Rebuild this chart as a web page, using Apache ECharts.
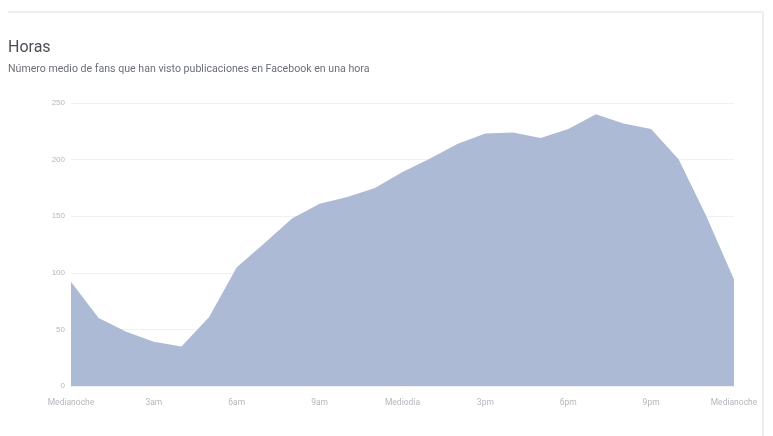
<!DOCTYPE html>
<html>
<head>
<meta charset="utf-8">
<script src="https://cdn.jsdelivr.net/npm/echarts@6/dist/echarts.min.js"></script>
<style>
html,body{margin:0;padding:0;background:#fff;}
#frame{position:absolute;left:8px;top:11px;width:754px;height:430px;border-top:2px solid #eceef1;border-right:2px solid #eceef1;}
#chart{position:absolute;left:0;top:0;width:773px;height:436px;}
</style>
</head>
<body>
<div id="frame"></div>
<div id="chart"></div>
<script>
var titleText = 'Horas';
var subtitleText = 'Número medio de fans que han visto publicaciones en Facebook en una hora';
var hours = ['0','1','2','3','4','5','6','7','8','9','10','11','12','13','14','15','16','17','18','19','20','21','22','23','24'];
var tickLabels = {0:'Medianoche',3:'3am',6:'6am',9:'9am',12:'Mediodía',15:'3pm',18:'6pm',21:'9pm',24:'Medianoche'};
var fans = [92, 60, 48, 39, 35, 61, 105, 126, 148, 161, 167, 175, 189, 201, 214, 223, 224, 219, 227, 240, 232, 227, 200, 150, 94];

var chart = echarts.init(document.getElementById('chart'));
chart.setOption({
  animation: false,
  title: {
    text: titleText,
    subtext: subtitleText,
    left: 3,
    top: 35,
    itemGap: 8,
    textStyle: {fontFamily: 'Roboto, sans-serif', fontWeight: 'normal', fontSize: 16, color: '#4b4f56'},
    subtextStyle: {fontFamily: 'Roboto, sans-serif', fontSize: 10.6, color: '#6a6f77'}
  },
  grid: {left: 71, right: 39, top: 103, bottom: 50},
  xAxis: {
    type: 'category',
    data: hours,
    boundaryGap: false,
    axisLine: {show: false},
    axisTick: {show: false},
    axisLabel: {
      interval: 0,
      margin: 12,
      color: '#b4b7bc',
      fontSize: 8.5,
      fontFamily: 'Roboto, sans-serif',
      formatter: function (v, i) { return tickLabels[i] || ''; }
    },
    splitLine: {show: false}
  },
  yAxis: {
    type: 'value',
    min: 0,
    max: 250,
    interval: 50,
    axisLine: {show: false},
    axisTick: {show: false},
    axisLabel: {color: '#b4b7bc', fontSize: 8, margin: 6},
    splitLine: {lineStyle: {color: '#f0f1f3', width: 1}}
  },
  series: [{
    type: 'line',
    data: fans,
    symbol: 'none',
    lineStyle: {width: 0},
    areaStyle: {color: '#adbad6', opacity: 1}
  }]
});
</script>
</body>
</html>
